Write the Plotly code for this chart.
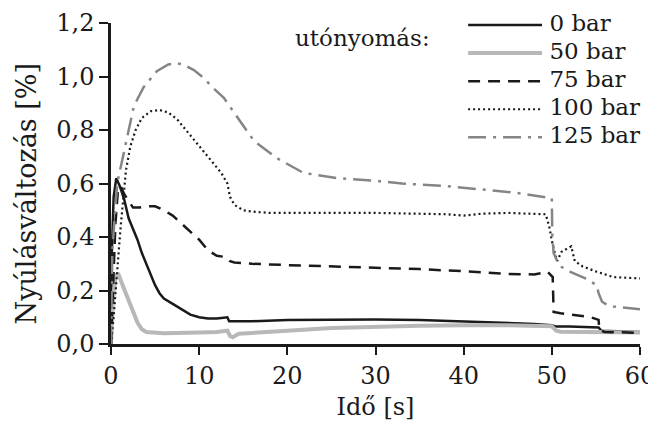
import plotly.graph_objects as go

# ---- data ----
names = ["0 bar", "50 bar", "75 bar", "100 bar", "125 bar"]
legend_title = "utónyomás:"
x_title = "Idő [s]"
y_title = "Nyúlásváltozás [%]"

t0 = [0, 0.1, 0.3, 0.5, 0.6, 1.0, 1.5, 2.0, 2.5, 3.0, 3.5, 4.0, 4.5, 5.0, 5.5, 6.0, 7.0, 8.0, 9.0, 10.0,
      11.0, 12.0, 13.2, 13.4, 14, 16, 20, 25, 30, 35, 40, 45, 48, 50, 50.5, 52, 55, 55.3, 55.6, 58, 60]
v0 = [0, 0.35, 0.55, 0.61, 0.62, 0.59, 0.54, 0.47, 0.43, 0.39, 0.34, 0.30, 0.26, 0.22, 0.19, 0.17, 0.15, 0.13, 0.11, 0.10,
      0.095, 0.095, 0.10, 0.085, 0.085, 0.085, 0.09, 0.092, 0.092, 0.09, 0.085, 0.08, 0.075, 0.07, 0.065, 0.065, 0.063, 0.062, 0.05, 0.048, 0.045]

t50 = [0, 0.2, 0.5, 0.8, 1.2, 1.7, 2.2, 2.6, 3.0, 3.5, 4, 6, 8, 10, 12, 13.2, 13.5, 13.8, 14.5, 16, 18, 20,
       25, 30, 35, 40, 45, 50, 50.5, 51, 55, 60]
v50 = [0, 0.15, 0.25, 0.265, 0.23, 0.19, 0.15, 0.12, 0.08, 0.055, 0.045, 0.04, 0.04, 0.043, 0.045, 0.05, 0.03, 0.025, 0.038, 0.042, 0.046, 0.05,
       0.06, 0.065, 0.068, 0.07, 0.07, 0.066, 0.05, 0.046, 0.045, 0.043]

t75 = [0, 0.2, 0.5, 0.8, 1.1, 1.5, 1.9, 2.5, 3.2, 4.1, 5, 6, 7, 8, 9, 10, 11, 12, 13, 13.5, 14, 16, 20,
       25, 30, 35, 40, 45, 48, 49.5, 50.1, 50.2, 51, 54.4, 55.3, 55.4, 56, 60]
v75 = [0, 0.2, 0.45, 0.58, 0.59, 0.56, 0.54, 0.51, 0.51, 0.515, 0.515, 0.50, 0.48, 0.45, 0.42, 0.39, 0.35, 0.33, 0.325, 0.31, 0.305, 0.30, 0.295,
       0.29, 0.285, 0.28, 0.272, 0.262, 0.26, 0.27, 0.25, 0.12, 0.115, 0.10, 0.09, 0.052, 0.045, 0.042]

t100 = [0, 0.3, 0.6, 1.1, 1.7, 2.2, 2.8, 3.5, 4.5, 5.5, 6.5, 7.5, 8.5, 9.5, 10.5, 11.5, 12.5, 13.2, 13.5, 14, 15, 16,
        18, 20, 25, 30, 35, 38, 40, 42, 45, 49.3, 49.7, 50.1, 50.6, 51.1, 52.2, 52.6, 53.5, 55.1, 57, 60]
v100 = [0, 0.1, 0.23, 0.44, 0.65, 0.74, 0.80, 0.845, 0.87, 0.875, 0.865, 0.84, 0.80, 0.76, 0.72, 0.68, 0.64, 0.60, 0.55, 0.52, 0.50, 0.495,
        0.49, 0.49, 0.49, 0.49, 0.487, 0.485, 0.48, 0.487, 0.49, 0.485, 0.44, 0.37, 0.31, 0.345, 0.365, 0.31, 0.29, 0.27, 0.25, 0.245]

t125 = [0, 0.15, 0.7, 1.6, 2.6, 3.7, 5.2, 6.5, 7.5, 8.5, 9.4, 10.5, 11.5, 12.8, 14.3, 16.2, 18.8, 21.8, 25.6, 30, 33, 38, 43, 46,
        50, 50.05, 50.2, 50.6, 51, 52.1, 53.8, 55.1, 55.3, 55.7, 56.3, 57, 60]
v125 = [0, 0.35, 0.60, 0.74, 0.89, 0.96, 1.02, 1.045, 1.05, 1.04, 1.024, 0.995, 0.96, 0.92, 0.85, 0.76, 0.695, 0.64, 0.62, 0.61, 0.60, 0.59, 0.575, 0.565,
        0.545, 0.41, 0.34, 0.31, 0.29, 0.27, 0.245, 0.22, 0.19, 0.158, 0.146, 0.14, 0.13]

x_ticks = [0, 10, 20, 30, 40, 50, 60]
y_ticks = [0, 0.2, 0.4, 0.6, 0.8, 1.0, 1.2]

# legend sample geometry (on an auxiliary axis)
legend_x = [0, 1]
legend_rows = [0, 1, 2, 3, 4]

series_t = [t0, t50, t75, t100, t125]
series_v = [v0, v50, v75, v100, v125]
styles = [
    dict(color="#1a1a1a", width=2.5, dash="solid"),
    dict(color="#b8b8b8", width=4, dash="solid"),
    dict(color="#1a1a1a", width=2.5, dash="12px,8px"),
    dict(color="#1a1a1a", width=2.2, dash="2px,3px"),
    dict(color="#858585", width=2.5, dash="18px,7px,3px,7px"),
]

FONT = "DejaVu Serif"

fig = go.Figure()
for t, v, s, n in zip(series_t, series_v, styles, names):
    fig.add_trace(go.Scatter(x=t, y=v, mode="lines", line=s, name=n, showlegend=False))

for r, s, n in zip(legend_rows, styles, names):
    fig.add_trace(go.Scatter(x=legend_x, y=[r, r], mode="lines+text", line=s,
                             text=["", " " + n], textposition="middle right",
                             textfont=dict(family=FONT, size=23, color="#1a1a1a"),
                             xaxis="x2", yaxis="y2", showlegend=False, cliponaxis=False))

fig.update_layout(
    width=648, height=413,
    margin=dict(l=103, r=16, t=15, b=77),
    paper_bgcolor="white", plot_bgcolor="white",
    separators=", ",
    font=dict(family=FONT, size=24, color="#1a1a1a"),
    xaxis=dict(range=[0, 60], tickvals=x_ticks, showgrid=False, zeroline=False, automargin=False,
               showline=True, linecolor="#1a1a1a", linewidth=2.5,
               ticks="outside", ticklen=8, tickwidth=2, tickcolor="#1a1a1a",
               title=dict(text=x_title, font=dict(size=24))),
    yaxis=dict(range=[0, 1.2], tickvals=y_ticks, tickformat=".1f", ticksuffix="\u2002",
               showgrid=False, zeroline=False, automargin=False,
               showline=True, linecolor="#1a1a1a", linewidth=2.5,
               ticks="outside", ticklen=9, tickwidth=2, tickcolor="#1a1a1a"),
    xaxis2=dict(domain=[0.675, 0.815], range=[0, 1], visible=False, anchor="y2"),
    yaxis2=dict(domain=[0.6, 1.0], range=[4.5, -0.07], visible=False, anchor="x2"),
    annotations=[
        dict(text=legend_title, x=0.607, y=0.953, xref="paper", yref="paper",
             xanchor="right", yanchor="middle", showarrow=False,
             font=dict(family=FONT, size=23, color="#1a1a1a")),
        dict(text=y_title, x=-0.16, y=0.467, xref="paper", yref="paper", textangle=-90,
             xanchor="center", yanchor="middle", showarrow=False,
             font=dict(family=FONT, size=27, color="#1a1a1a")),
    ],
)

fig.write_html("out.html")
